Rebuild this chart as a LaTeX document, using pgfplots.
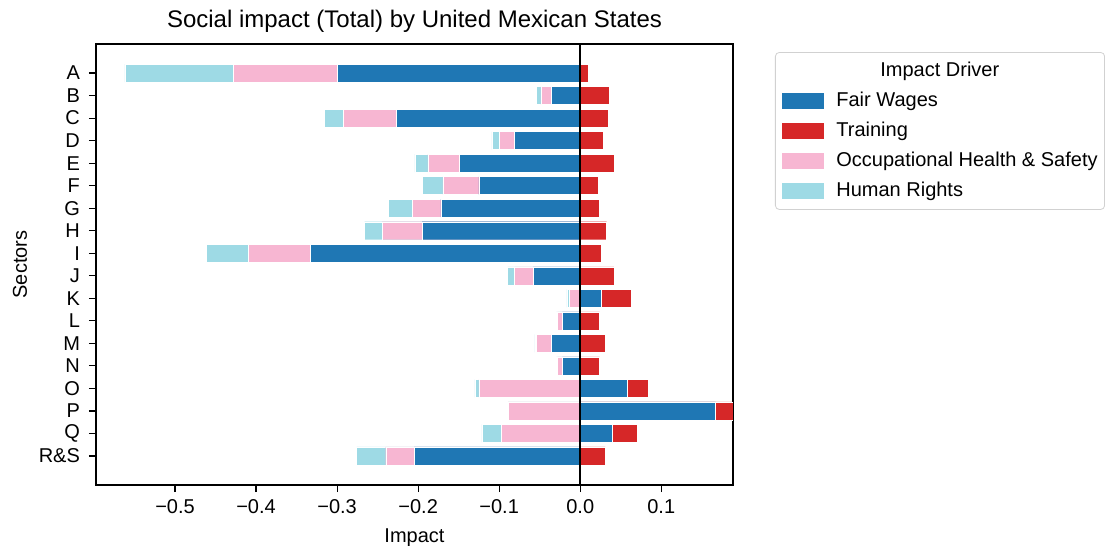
\documentclass[border=0pt]{standalone}
\usepackage{pgfplots}
\pgfplotsset{compat=1.18}
\usepackage{pgfplotstable}
\usepackage{fontspec}
\setmainfont{Liberation Sans}
\definecolor{fw}{HTML}{1F77B4}
\definecolor{tr}{HTML}{D62728}
\definecolor{ohs}{HTML}{F7B6D2}
\definecolor{hr}{HTML}{9EDAE5}
\pgfplotstableread{
row FW T OHS HR
0 -0.300 0.010 -0.128 -0.134
1 -0.036 0.036 -0.0125 -0.0055
2 -0.227 0.035 -0.065 -0.024
3 -0.081 0.028 -0.019 -0.009
4 -0.149 0.042 -0.039 -0.016
5 -0.125 0.022 -0.0445 -0.0255
6 -0.172 0.024 -0.035 -0.030
7 -0.195 0.0325 -0.0495 -0.0215
8 -0.333 0.0255 -0.0765 -0.0515
9 -0.058 0.0415 -0.023 -0.0085
10 0.026 0.037 -0.0135 -0.003
11 -0.022 0.024 -0.006 -0.0015
12 -0.036 0.031 -0.0185 -0.0015
13 -0.022 0.024 -0.006 -0.0015
14 0.0585 0.025 -0.125 -0.005
15 0.167 0.025 -0.089 0.0
16 0.040 0.030 -0.097 -0.0245
17 -0.205 0.031 -0.035 -0.036
}\datatab
\begin{document}
\begin{tikzpicture}[x=1pt,y=1pt]
\useasboundingbox (-48,-30.5) rectangle (504.5,242.5);
\begin{axis}[
  at={(0,0)}, anchor=south west,
  scale only axis, width=318.5pt, height=220.5pt,
  xmin=-0.5975, xmax=0.1885,
  ymin=-1.29, ymax=18.29, y dir=reverse,
  xbar, bar width=0.8,
  xtick={-0.5,-0.4,-0.3,-0.2,-0.1,0,0.1},
  xticklabels={−0.5,−0.4,−0.3,−0.2,−0.1,0.0,0.1},
  ytick={0,...,17},
  yticklabels={A,B,C,D,E,F,G,H,I,J,K,L,M,N,O,P,Q,R\&S},
  tick align=outside, major tick length=3.5pt,
  tick style={black, line width=0.6pt},
  xtick pos=bottom, ytick pos=left,
  axis line style={black, line width=0.6pt},
  tick label style={font=\fontsize{10}{12}\selectfont},
  yticklabel style={xshift=-1pt},
  xlabel={Impact}, ylabel={Sectors},
  label style={font=\fontsize{10}{12}\selectfont},
  xlabel style={yshift=-1pt},
  ylabel style={yshift=-1pt},
  title={Social impact (Total) by United Mexican States},
  title style={font=\fontsize{12}{14}\selectfont, yshift=-4pt},
  clip=true,
  legend style={at={(axis description cs:1.0659,0.9818)}, anchor=north west,
    draw=black!18, rounded corners=2pt, font=\fontsize{10}{12}\selectfont,
    row sep=2.2pt, inner xsep=1.5pt, inner ysep=3pt},
  legend cell align=left,
]
\addplot[fill=hr, draw=white, line width=0.2pt, bar shift=0pt, forget plot]
  table[y=row, x expr={min(\thisrow{FW},0)+\thisrow{OHS}+\thisrow{HR}}] {\datatab};
\addplot[fill=ohs, draw=white, line width=0.2pt, bar shift=0pt, forget plot]
  table[y=row, x expr={min(\thisrow{FW},0)+\thisrow{OHS}}] {\datatab};
\addplot[fill=fw, draw=white, line width=0.2pt, bar shift=0pt, forget plot]
  table[y=row, x expr={min(\thisrow{FW},0)}] {\datatab};
\addplot[fill=tr, draw=white, line width=0.2pt, bar shift=0pt, forget plot]
  table[y=row, x expr={max(\thisrow{FW},0)+\thisrow{T}}] {\datatab};
\addplot[fill=fw, draw=white, line width=0.2pt, bar shift=0pt, forget plot]
  table[y=row, x expr={max(\thisrow{FW},0)}] {\datatab};
\draw[black, line width=0.8pt] (axis cs:0,-1.29) -- (axis cs:0,18.29);
\addlegendimage{empty legend}
\addlegendentry{\makebox[0pt][l]{\hspace{22pt}Impact Driver}}
\addlegendimage{legend image code/.code={\fill[fw, draw=none, sharp corners] (2pt,-4pt) rectangle (23pt,4pt); \path[draw=none] (0pt,0pt) -- (27pt,0pt);}}
\addlegendentry{Fair Wages}
\addlegendimage{legend image code/.code={\fill[tr, draw=none, sharp corners] (2pt,-4pt) rectangle (23pt,4pt); \path[draw=none] (0pt,0pt) -- (27pt,0pt);}}
\addlegendentry{Training}
\addlegendimage{legend image code/.code={\fill[ohs, draw=none, sharp corners] (2pt,-4pt) rectangle (23pt,4pt); \path[draw=none] (0pt,0pt) -- (27pt,0pt);}}
\addlegendentry{Occupational Health \& Safety}
\addlegendimage{legend image code/.code={\fill[hr, draw=none, sharp corners] (2pt,-4pt) rectangle (23pt,4pt); \path[draw=none] (0pt,0pt) -- (27pt,0pt);}}
\addlegendentry{Human Rights}
\end{axis}
\end{tikzpicture}
\end{document}
